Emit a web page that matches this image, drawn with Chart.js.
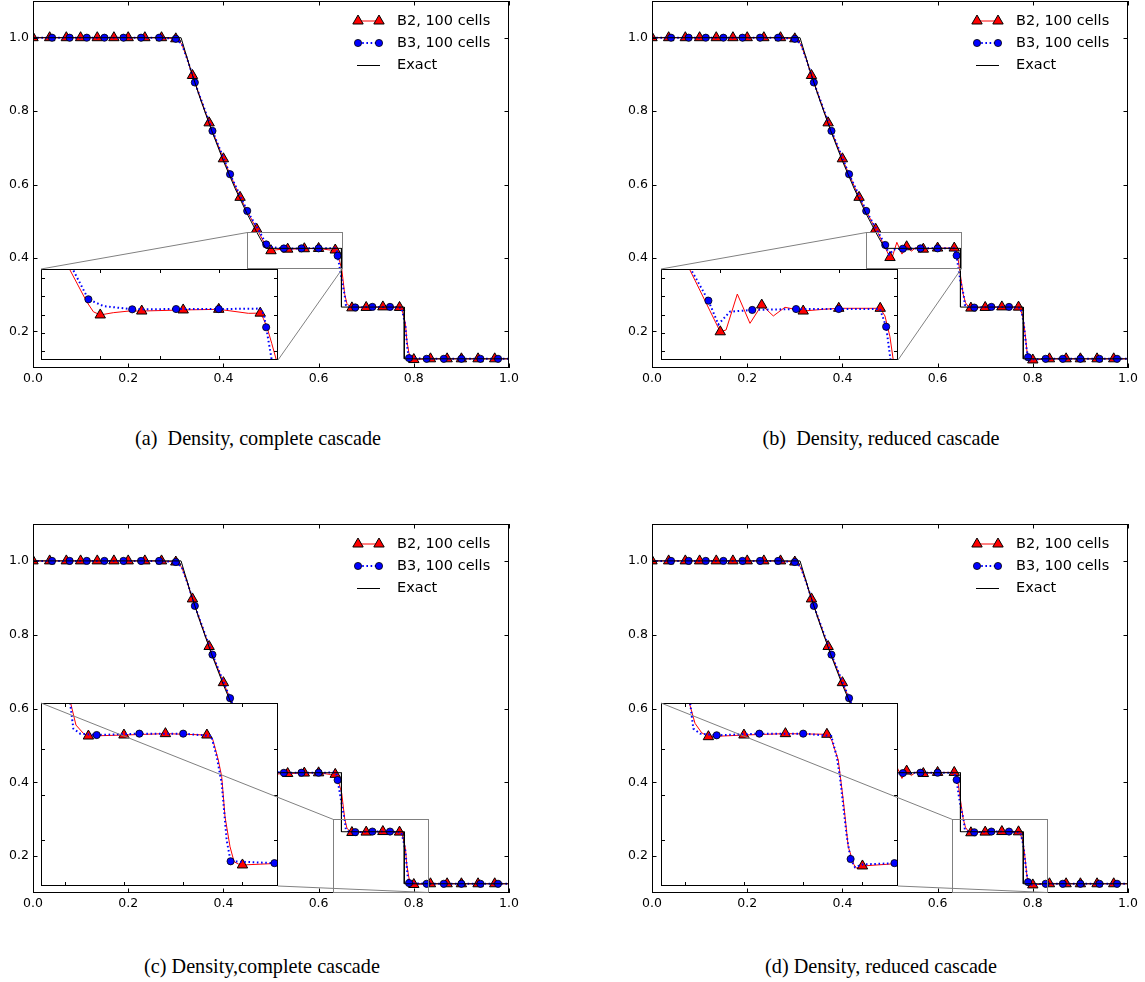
<!DOCTYPE html>
<html>
<head>
<meta charset="utf-8">
<title>Density</title>
<script src="https://cdn.jsdelivr.net/npm/chart.js@4.4.0/dist/chart.umd.min.js"></script>
<style>
  body { margin: 0; background: #fff; width: 1145px; height: 982px; position: relative; overflow: hidden; }
  .panel { position: absolute; width: 560px; height: 400px; }
  .panel canvas { position: absolute; left: 0; top: 0; }
  .caption { position: absolute; font-family: "Liberation Serif", "Times New Roman", serif; font-size: 20.2px;
             line-height: 1; white-space: pre; color: #000; transform: translateX(-50%); }
</style>
</head>
<body>
<div class="panel" id="pa"><canvas id="pa-main" width="560" height="400"></canvas><canvas id="pa-inset" width="560" height="400"></canvas></div>
<div class="panel" id="pb"><canvas id="pb-main" width="560" height="400"></canvas><canvas id="pb-inset" width="560" height="400"></canvas></div>
<div class="panel" id="pc"><canvas id="pc-main" width="560" height="400"></canvas><canvas id="pc-inset" width="560" height="400"></canvas></div>
<div class="panel" id="pd"><canvas id="pd-main" width="560" height="400"></canvas><canvas id="pd-inset" width="560" height="400"></canvas></div>

<div class="caption" style="left:258px; top:428px">(a)  Density, complete cascade</div>
<div class="caption" style="left:881px; top:428px">(b)  Density, reduced cascade</div>
<div class="caption" style="left:262px; top:956px">(c) Density,complete cascade</div>
<div class="caption" style="left:881px; top:956px">(d) Density, reduced cascade</div>

<script>
// 刻度
var xTicks = [0.0, 0.2, 0.4, 0.6, 0.8, 1.0];
var yTicks = [0.2, 0.4, 0.6, 0.8, 1.0];
var legendNames = ['B2, 100 cells', 'B3, 100 cells', 'Exact'];

// 標記點的位置 (B2 三角形, B3 圓點)
var b2MarkX = [0.000, 0.035, 0.070, 0.100, 0.135, 0.170, 0.200, 0.235, 0.270, 0.300, 0.335, 0.370, 0.400, 0.435, 0.470,
               0.500, 0.535, 0.570, 0.600, 0.635, 0.670, 0.700, 0.735, 0.770, 0.800, 0.835, 0.870, 0.900, 0.935, 0.970];
var b3MarkX = [0.040, 0.077, 0.113, 0.150, 0.190, 0.227, 0.265, 0.300, 0.340, 0.377, 0.414, 0.450, 0.490,
               0.527, 0.564, 0.600, 0.640, 0.677, 0.713, 0.750, 0.790, 0.827, 0.863, 0.900, 0.940, 0.977];

// 精確解
var exactX = [0.000, 0.311, 0.330, 0.350, 0.375, 0.400, 0.425, 0.450, 0.470, 0.489, 0.648, 0.648, 0.780, 0.780, 1.000];
var exactY = [1.000, 1.000, 0.918, 0.839, 0.748, 0.664, 0.588, 0.520, 0.470, 0.426, 0.426, 0.266, 0.266, 0.125, 0.125];

// complete cascade, B2
var compB2X = [0.000, 0.035, 0.070, 0.100, 0.135, 0.170, 0.200, 0.235, 0.270, 0.300, 0.312, 0.322, 0.335, 0.370, 0.400,
               0.435, 0.470, 0.474, 0.4886, 0.4942, 0.500, 0.511, 0.525, 0.535, 0.570, 0.600, 0.625, 0.635, 0.6376,
               0.641, 0.6447, 0.6486, 0.655, 0.6595, 0.6657, 0.670, 0.700, 0.735, 0.770, 0.7749, 0.7796, 0.7825,
               0.7853, 0.7895, 0.7929, 0.7965, 0.800, 0.835, 0.870, 0.900, 0.935, 0.970, 1.000];
var compB2Y = [1.000, 1.000, 1.000, 1.000, 1.000, 1.000, 1.000, 1.000, 1.000, 0.997, 0.984, 0.950, 0.897, 0.768, 0.670,
               0.565, 0.478, 0.470, 0.434, 0.423, 0.4195, 0.422, 0.4239, 0.4238, 0.425, 0.4257, 0.4213, 0.4215, 0.4157,
               0.4048, 0.3883, 0.370, 0.300, 0.2759, 0.2669, 0.2639, 0.265, 0.2665, 0.265, 0.2603, 0.2377, 0.2195,
               0.1757, 0.143, 0.1266, 0.124, 0.123, 0.125, 0.125, 0.125, 0.125, 0.125, 0.125];

// complete cascade, B3
var compB3X = [0.000, 0.040, 0.077, 0.113, 0.150, 0.190, 0.227, 0.265, 0.300, 0.313, 0.325, 0.340, 0.377, 0.414, 0.450,
               0.4767, 0.490, 0.5026, 0.527, 0.564, 0.600, 0.6348, 0.638, 0.640, 0.6447, 0.650, 0.6546, 0.6573, 0.663,
               0.677, 0.713, 0.750, 0.7737, 0.7783, 0.7825, 0.7867, 0.790, 0.827, 0.863, 0.900, 0.940, 0.977, 1.000];
var compB3Y = [1.000, 1.000, 1.000, 1.000, 1.000, 1.000, 1.000, 1.000, 0.997, 0.982, 0.938, 0.878, 0.746, 0.628, 0.528,
               0.470, 0.4367, 0.4293, 0.4257, 0.426, 0.426, 0.4265, 0.420, 0.406, 0.370, 0.330, 0.300, 0.272, 0.2665,
               0.265, 0.2665, 0.2665, 0.264, 0.2413, 0.2122, 0.150, 0.127, 0.125, 0.125, 0.125, 0.125, 0.125, 0.125];

// reduced cascade, B2
var redB2X = [0.000, 0.035, 0.070, 0.100, 0.135, 0.170, 0.200, 0.235, 0.270, 0.300, 0.312, 0.322, 0.335, 0.370, 0.400,
              0.435, 0.470, 0.474, 0.500, 0.5049, 0.5144, 0.5251, 0.535, 0.5448, 0.5546, 0.5631, 0.570, 0.587, 0.600,
              0.6205, 0.635, 0.639, 0.6432, 0.646, 0.6539, 0.6587, 0.6643, 0.670, 0.700, 0.735, 0.770, 0.774, 0.7796,
              0.7838, 0.788, 0.7929, 0.795, 0.800, 0.835, 0.870, 0.900, 0.935, 0.970, 1.000];
var redB2Y = [1.000, 1.000, 1.000, 1.000, 1.000, 1.000, 1.000, 1.000, 1.000, 0.997, 0.984, 0.950, 0.897, 0.768, 0.670,
              0.565, 0.478, 0.470, 0.401, 0.403, 0.4425, 0.4103, 0.4304, 0.4184, 0.4279, 0.4257, 0.4238, 0.4257, 0.4268,
              0.4268, 0.4268, 0.4184, 0.3956, 0.370, 0.300, 0.2778, 0.2675, 0.2632, 0.265, 0.2665, 0.2658, 0.2596, 0.2377,
              0.194, 0.143, 0.123, 0.1195, 0.1219, 0.125, 0.125, 0.125, 0.125, 0.125, 0.125];

// reduced cascade, B3
var redB3X = [0.000, 0.040, 0.077, 0.113, 0.150, 0.190, 0.227, 0.265, 0.300, 0.313, 0.325, 0.340, 0.377, 0.414, 0.450,
              0.4751, 0.490, 0.4984, 0.5082, 0.527, 0.564, 0.600, 0.6348, 0.640, 0.6437, 0.649, 0.6546, 0.6573, 0.663,
              0.677, 0.713, 0.750, 0.7737, 0.7783, 0.781, 0.7867, 0.790, 0.7937, 0.800, 0.827, 0.863, 0.900, 0.940,
              0.977, 1.000];
var redB3Y = [1.000, 1.000, 1.000, 1.000, 1.000, 1.000, 1.000, 1.000, 0.997, 0.982, 0.938, 0.878, 0.746, 0.628, 0.528,
              0.470, 0.4352, 0.4092, 0.4231, 0.425, 0.426, 0.426, 0.426, 0.4066, 0.370, 0.330, 0.300, 0.272, 0.2665,
              0.2647, 0.2665, 0.2665, 0.264, 0.2413, 0.2196, 0.155, 0.1295, 0.1204, 0.1235, 0.125, 0.125, 0.125, 0.125,
              0.125, 0.125];

var runs = {
    complete: { b2x: compB2X, b2y: compB2Y, b3x: compB3X, b3y: compB3Y },
    reduced:  { b2x: redB2X,  b2y: redB2Y,  b3x: redB3X,  b3y: redB3Y }
};

// 每個子圖的位置 (頁面座標) 與放大區域
var panels = [
    { id: 'pa', ox: 0,   oy: 0,   area: [33, 1, 509, 368],    run: 'complete', inset: [41, 269, 278, 360],
      zx: [0.45, 0.65], zy: [0.37, 0.47], zxTicks: [0.50, 0.55, 0.60], zyTicks: [0.38, 0.40, 0.42, 0.44, 0.46] },
    { id: 'pb', ox: 620, oy: 0,   area: [652, 1, 1128, 368],  run: 'reduced',  inset: [661, 269, 898, 360],
      zx: [0.45, 0.65], zy: [0.37, 0.47], zxTicks: [0.50, 0.55, 0.60], zyTicks: [0.38, 0.40, 0.42, 0.44, 0.46] },
    { id: 'pc', ox: 0,   oy: 523, area: [33, 524, 509, 893],  run: 'complete', inset: [41, 703, 278, 886],
      zx: [0.63, 0.83], zy: [0.10, 0.30], zxTicks: [0.65, 0.70, 0.75, 0.80], zyTicks: [0.15, 0.20, 0.25] },
    { id: 'pd', ox: 620, oy: 523, area: [652, 524, 1128, 893], run: 'reduced', inset: [661, 703, 898, 886],
      zx: [0.63, 0.83], zy: [0.10, 0.30], zxTicks: [0.65, 0.70, 0.75, 0.80], zyTicks: [0.15, 0.20, 0.25] }
];

var W = 560, H = 400;
var RED = '#ff0000', BLUE = '#0000ff';
var DOTS = [1.6, 2.6];

Chart.defaults.font.family = "'DejaVu Sans', sans-serif";

function pts(xs, ys) {
    return xs.map(function (x, i) { return { x: x, y: ys[i] }; });
}

// 只在標記位置畫點
function markAt(list, r) {
    return function (ctx) {
        return ctx.raw && list.indexOf(ctx.raw.x) >= 0 ? r : 0;
    };
}

function b2Dataset(run) {
    return {
        data: pts(run.b2x, run.b2y),
        borderColor: RED, borderWidth: 1,
        pointStyle: 'triangle', pointRadius: markAt(b2MarkX, 6),
        pointBackgroundColor: RED, pointBorderColor: '#000', pointBorderWidth: 1
    };
}

function b3Dataset(run) {
    return {
        data: pts(run.b3x, run.b3y),
        borderColor: BLUE, borderWidth: 2, borderDash: DOTS,
        pointStyle: 'circle', pointRadius: markAt(b3MarkX, 3.6),
        pointBackgroundColor: BLUE, pointBorderColor: '#000', pointBorderWidth: 0.8
    };
}

// 外框與朝內的刻度線 (四邊)
var framePlugin = {
    id: 'frame',
    afterDraw: function (chart, args, opts) {
        var a = chart.chartArea, ctx = chart.ctx;
        var sx = chart.scales.x, sy = chart.scales.y, len = opts.tickLen;
        ctx.save();
        ctx.strokeStyle = '#000';
        ctx.lineWidth = 1;
        ctx.beginPath();
        opts.xTicks.forEach(function (v) {
            var px = Math.round(sx.getPixelForValue(v)) + 0.5;
            ctx.moveTo(px, a.bottom); ctx.lineTo(px, a.bottom - len);
            ctx.moveTo(px, a.top); ctx.lineTo(px, a.top + len);
        });
        opts.yTicks.forEach(function (v) {
            var py = Math.round(sy.getPixelForValue(v)) + 0.5;
            ctx.moveTo(a.left, py); ctx.lineTo(a.left + len, py);
            ctx.moveTo(a.right, py); ctx.lineTo(a.right - len, py);
        });
        ctx.stroke();
        ctx.strokeRect(a.left + 0.5, a.top + 0.5, a.right - a.left - 1, a.bottom - a.top - 1);
        ctx.restore();
    }
};

// 圖例: 線段 + 兩端標記
var keyPlugin = {
    id: 'key',
    afterDraw: function (chart) {
        var a = chart.chartArea, ctx = chart.ctx;
        var x0 = a.left + 325, x1 = a.left + 346, tx = a.left + 364;
        var rows = [a.top + 20, a.top + 42, a.top + 64];
        ctx.save();
        // B2
        ctx.strokeStyle = RED; ctx.lineWidth = 1; ctx.setLineDash([]);
        ctx.beginPath(); ctx.moveTo(x0, rows[0]); ctx.lineTo(x1, rows[0]); ctx.stroke();
        [x0, x1].forEach(function (x) { triangle(ctx, x, rows[0], 6); });
        // B3
        ctx.strokeStyle = BLUE; ctx.lineWidth = 2; ctx.setLineDash(DOTS);
        ctx.beginPath(); ctx.moveTo(x0, rows[1]); ctx.lineTo(x1, rows[1]); ctx.stroke();
        ctx.setLineDash([]);
        [x0, x1].forEach(function (x) { dot(ctx, x, rows[1], 3.6); });
        // Exact
        ctx.strokeStyle = '#000'; ctx.lineWidth = 1;
        ctx.beginPath(); ctx.moveTo(x0 - 1, rows[2] + 0.5); ctx.lineTo(x1 + 1, rows[2] + 0.5); ctx.stroke();

        ctx.fillStyle = '#000';
        ctx.font = "14.5px 'DejaVu Sans', sans-serif";
        ctx.textBaseline = 'middle';
        legendNames.forEach(function (t, i) { ctx.fillText(t, tx, rows[i]); });
        ctx.restore();
    }
};

function triangle(ctx, x, y, r) {
    ctx.beginPath();
    ctx.moveTo(x, y - r);
    ctx.lineTo(x + r * Math.sin(Math.PI * 2 / 3), y - r * Math.cos(Math.PI * 2 / 3));
    ctx.lineTo(x - r * Math.sin(Math.PI * 2 / 3), y - r * Math.cos(Math.PI * 2 / 3));
    ctx.closePath();
    ctx.fillStyle = RED; ctx.fill();
    ctx.strokeStyle = '#000'; ctx.lineWidth = 1; ctx.stroke();
}

function dot(ctx, x, y, r) {
    ctx.beginPath();
    ctx.arc(x, y, r, 0, Math.PI * 2);
    ctx.fillStyle = BLUE; ctx.fill();
    ctx.strokeStyle = '#000'; ctx.lineWidth = 0.8; ctx.stroke();
}

// 放大圖的白底
var whiteBack = {
    id: 'whiteBack',
    beforeDatasetsDraw: function (chart) {
        var a = chart.chartArea;
        chart.ctx.save();
        chart.ctx.fillStyle = '#fff';
        chart.ctx.fillRect(a.left, a.top, a.right - a.left, a.bottom - a.top);
        chart.ctx.restore();
    }
};

// 主圖上的放大框及連接線
function zoomLinks(mainChart, p) {
    return {
        id: 'zoomLinks',
        afterDraw: function (chart) {
            var a = chart.chartArea, ctx = chart.ctx;
            var sx = mainChart.scales.x, sy = mainChart.scales.y;
            var l = Math.round(sx.getPixelForValue(p.zx[0])) + 0.5;
            var r = Math.round(sx.getPixelForValue(p.zx[1])) + 0.5;
            var t = Math.round(sy.getPixelForValue(p.zy[1])) + 0.5;
            var b = Math.round(sy.getPixelForValue(p.zy[0])) - 0.5;
            ctx.save();
            ctx.strokeStyle = '#808080';
            ctx.lineWidth = 1;
            ctx.strokeRect(l, t, r - l, b - t);
            ctx.beginPath();
            ctx.moveTo(a.left, a.top); ctx.lineTo(l, t);
            ctx.moveTo(a.right, a.bottom); ctx.lineTo(r, b);
            ctx.stroke();
            ctx.restore();
        }
    };
}

function fmt(v) { return v.toFixed(1); }

function makeMain(p) {
    var run = runs[p.run];
    var left = p.area[0] - p.ox, top = p.area[1] - p.oy, right = p.area[2] - p.ox, bottom = p.area[3] - p.oy;
    var tickFont = { family: "'DejaVu Sans', sans-serif", size: 12.5 };
    return new Chart(document.getElementById(p.id + '-main'), {
        type: 'line',
        data: {
            datasets: [
                { data: pts(exactX, exactY), borderColor: '#000', borderWidth: 1, pointRadius: 0 },
                b3Dataset(run),
                b2Dataset(run)
            ]
        },
        options: {
            responsive: false, animation: false, events: [],
            layout: { autoPadding: false, padding: { top: top, right: W - right, bottom: 0, left: 0 } },
            scales: {
                x: {
                    type: 'linear', min: 0, max: 1,
                    grid: { display: false, drawTicks: false }, border: { display: false },
                    ticks: { autoSkip: false, maxRotation: 0, padding: 3.5, color: '#000', font: tickFont, callback: fmt },
                    afterBuildTicks: function (s) { s.ticks = xTicks.map(function (v) { return { value: v }; }); },
                    afterFit: function (s) { s.height = H - bottom; s.paddingLeft = 0; s.paddingRight = 0; }
                },
                y: {
                    type: 'linear', min: 0.1, max: 1.1,
                    grid: { display: false, drawTicks: false }, border: { display: false },
                    ticks: { autoSkip: false, padding: 4, color: '#000', font: tickFont, callback: fmt },
                    afterBuildTicks: function (s) { s.ticks = yTicks.map(function (v) { return { value: v }; }); },
                    afterFit: function (s) { s.width = left; s.paddingTop = 0; s.paddingBottom = 0; }
                }
            },
            plugins: {
                legend: { display: false }, tooltip: { enabled: false },
                frame: { xTicks: xTicks, yTicks: yTicks, tickLen: 4.5 }
            }
        },
        plugins: [framePlugin, keyPlugin]
    });
}

function makeInset(p, mainChart) {
    var run = runs[p.run];
    var b = p.inset;
    return new Chart(document.getElementById(p.id + '-inset'), {
        type: 'line',
        data: { datasets: [b3Dataset(run), b2Dataset(run)] },
        options: {
            responsive: false, animation: false, events: [],
            layout: { autoPadding: false, padding: { left: b[0] - p.ox, top: b[1] - p.oy, right: W - (b[2] - p.ox), bottom: H - (b[3] - p.oy) } },
            scales: {
                x: { type: 'linear', display: false, min: p.zx[0], max: p.zx[1] },
                y: { type: 'linear', display: false, min: p.zy[0], max: p.zy[1] }
            },
            plugins: {
                legend: { display: false }, tooltip: { enabled: false },
                frame: { xTicks: p.zxTicks, yTicks: p.zyTicks, tickLen: 4 }
            }
        },
        plugins: [whiteBack, framePlugin, zoomLinks(mainChart, p)]
    });
}

panels.forEach(function (p) {
    var el = document.getElementById(p.id);
    el.style.left = p.ox + 'px';
    el.style.top = p.oy + 'px';
    var main = makeMain(p);
    makeInset(p, main);
});
</script>
</body>
</html>
